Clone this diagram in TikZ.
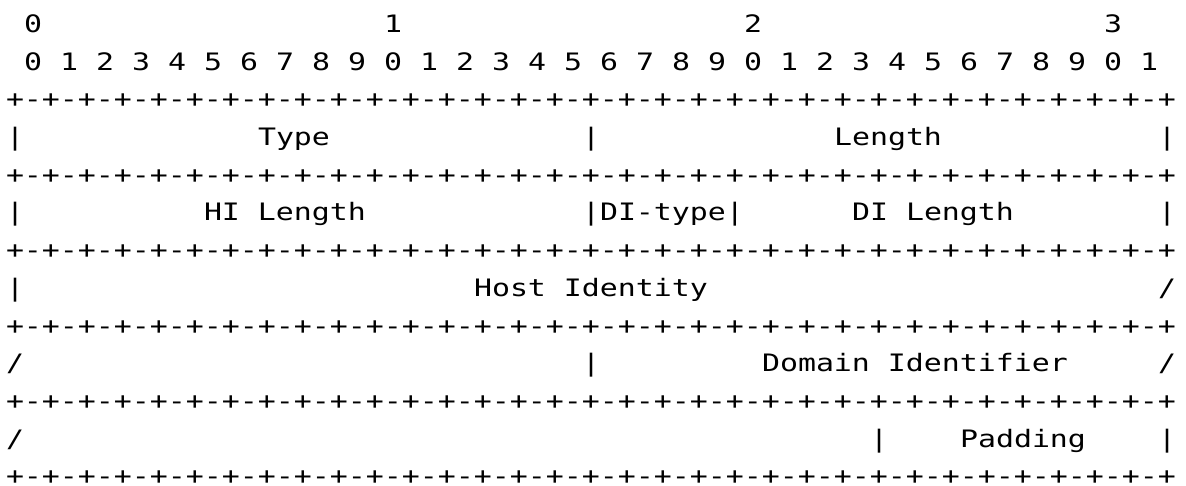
\documentclass[tikz,border=0pt]{standalone}
\usepackage{fontspec}
\newfontfamily\diagfont[FakeStretch=1.2457]{DejaVu Sans Mono}
\newcommand\onesp{\hbox to 18bp{}}
\newcommand\sixteen{+-+-+-+-+-+-+-+-}
\begin{document}
\begin{tikzpicture}[x=1bp,y=-1bp,
  txt/.style={anchor=base west, inner sep=0pt, outer sep=0pt, text=black,
    font=\diagfont\fontsize{24bp}{24bp}\selectfont},
  cellat/.style 2 args={at={({6+18*(#1)},{32.5+37.7*(#2)})}}]
\useasboundingbox[fill=white] (0,0) rectangle (1186,486);
% header rows
\node[txt,cellat={1}{0}]  (h0) {0};
\node[txt,cellat={21}{0}] (h1) {1};
\node[txt,cellat={41}{0}] (h2) {2};
\node[txt,cellat={61}{0}] (h3) {3};
\foreach \k in {0,...,31}{
  \pgfmathtruncatemacro\d{mod(\k,10)}
  \node[txt,cellat={2*\k+1}{1}] (bit\k) {\d};
}
% separator rows
\foreach \r in {2,4,6,8,10,12}{
  \node[txt,cellat={0}{\r}] (sep\r) {\sixteen\sixteen\sixteen\sixteen+};
}
% row 3
\node[txt,cellat={0}{3}]  (a0) {|};
\node[txt,cellat={14}{3}] (type) {Type};
\node[txt,cellat={32}{3}] (a1) {|};
\node[txt,cellat={46}{3}] (length) {Length};
\node[txt,cellat={64}{3}] (a2) {|};
% row 5
\node[txt,cellat={0}{5}]  (b0) {|};
\node[txt,cellat={11}{5}] (hilen) {HI\onesp Length};
\node[txt,cellat={32}{5}] (ditype) {|DI-type|};
\node[txt,cellat={47}{5}] (dilen) {DI\onesp Length};
\node[txt,cellat={64}{5}] (b1) {|};
% row 7
\node[txt,cellat={0}{7}]  (c0) {|};
\node[txt,cellat={26}{7}] (hostid) {Host\onesp Identity};
\node[txt,cellat={64}{7}] (c1) {/};
% row 9
\node[txt,cellat={0}{9}]  (d0) {/};
\node[txt,cellat={32}{9}] (d1) {|};
\node[txt,cellat={42}{9}] (domid) {Domain\onesp Identifier};
\node[txt,cellat={64}{9}] (d2) {/};
% row 11
\node[txt,cellat={0}{11}]  (e0) {/};
\node[txt,cellat={48}{11}] (e1) {|};
\node[txt,cellat={53}{11}] (padding) {Padding};
\node[txt,cellat={64}{11}] (e2) {|};
\end{tikzpicture}
\end{document}
